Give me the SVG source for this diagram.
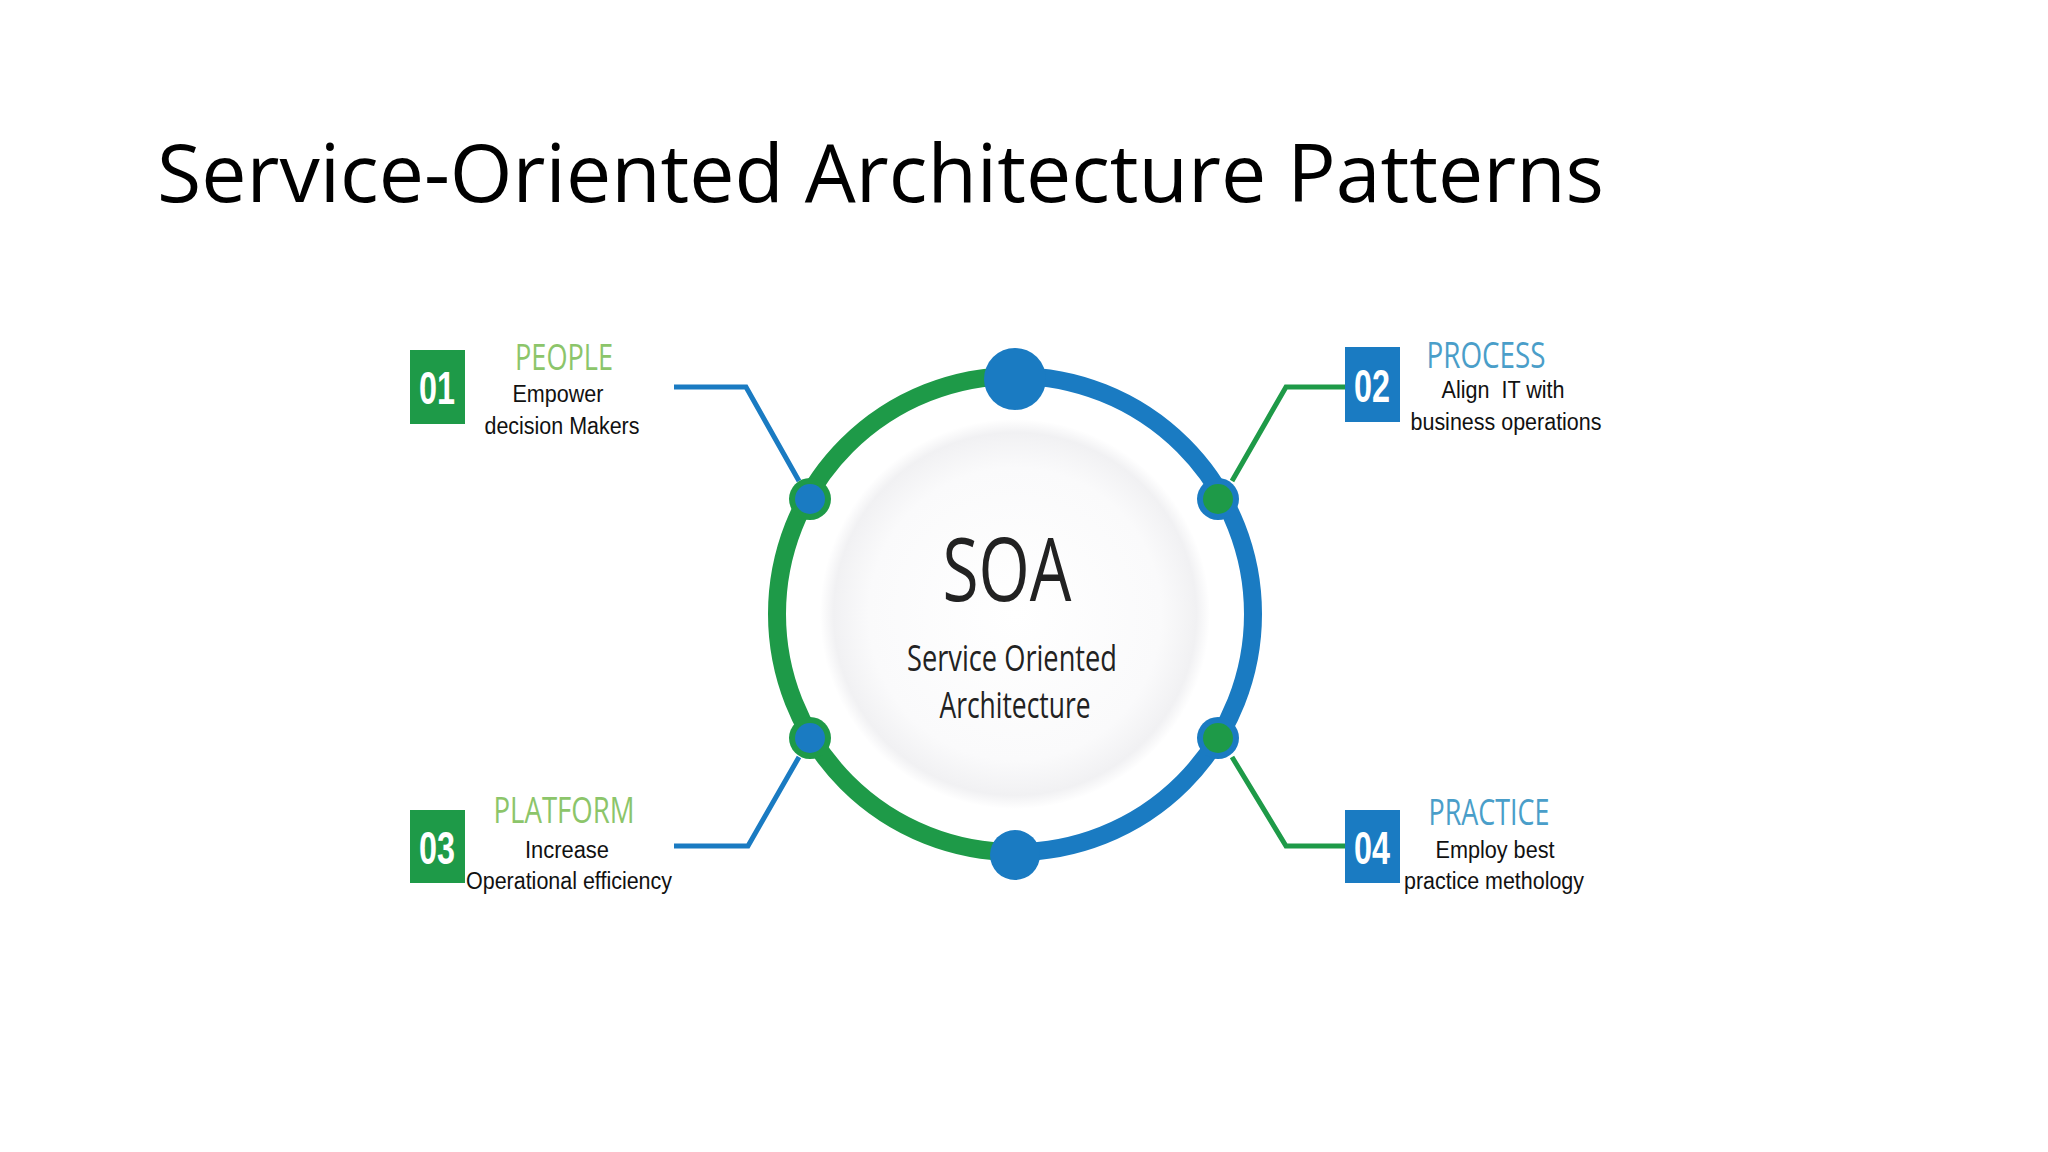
<svg xmlns="http://www.w3.org/2000/svg" width="2048" height="1152" viewBox="0 0 2048 1152">
<defs>
<radialGradient id="g" cx="0.5" cy="0.5" r="0.5">
<stop offset="0" stop-color="#ffffff"/><stop offset="0.75" stop-color="#fafafb"/><stop offset="0.93" stop-color="#f1f1f3"/><stop offset="1" stop-color="#ffffff"/>
</radialGradient>
<style>
.t{font-family:"Open Sans","Liberation Sans",Arial,sans-serif}
.num{font-family:"Liberation Sans",Arial,sans-serif;font-weight:bold;fill:#fff;font-size:46px;text-anchor:middle}
.hd{font-family:"Open Sans","Liberation Sans",sans-serif;font-size:36px;text-anchor:middle}
.sm{font-family:"Liberation Sans",Arial,sans-serif;font-size:23px;fill:#111;text-anchor:middle}
.ctr{font-family:"Open Sans","Liberation Sans",sans-serif;fill:#222;text-anchor:middle}
.cb{fill:none;stroke:#1a7bc2;stroke-width:5}
.cg{fill:none;stroke:#1e9a48;stroke-width:5}
</style>
</defs>
<rect width="2048" height="1152" fill="#fff"/>
<text class="t" x="157" y="202" font-size="80" textLength="1447" lengthAdjust="spacingAndGlyphs" fill="#000">Service-Oriented Architecture Patterns</text>
<g id="connectors">
<polyline class="cb" points="674,387 746,387 799,481"/>
<polyline class="cg" points="1345,387 1286,387 1232,481"/>
<polyline class="cb" points="674,846 748,846 799,757"/>
<polyline class="cg" points="1345,846 1286,846 1232,757"/>
</g>
<g id="soa">
<circle cx="1015" cy="614" r="195" fill="url(#g)"/>
<path d="M1015,376 A238,238 0 0 0 1015,852" fill="none" stroke="#1e9a48" stroke-width="18"/>
<path d="M1015,376 A238,238 0 0 1 1015,852" fill="none" stroke="#1a7bc2" stroke-width="18"/>
<circle cx="1015" cy="379" r="31" fill="#1a7bc2"/>
<circle cx="1015" cy="855" r="25" fill="#1a7bc2"/>
<circle cx="810" cy="499" r="21" fill="#1e9a48"/><circle cx="810" cy="499" r="15" fill="#1a7bc2"/>
<circle cx="810" cy="738" r="21" fill="#1e9a48"/><circle cx="810" cy="738" r="15" fill="#1a7bc2"/>
<circle cx="1218" cy="499" r="21" fill="#1a7bc2"/><circle cx="1218" cy="499" r="15" fill="#1e9a48"/>
<circle cx="1218" cy="738" r="21" fill="#1a7bc2"/><circle cx="1218" cy="738" r="15" fill="#1e9a48"/>
<text class="ctr" x="1007" y="601" font-size="88" textLength="129" lengthAdjust="spacingAndGlyphs">SOA</text>
<text class="ctr" x="1012" y="671" font-size="36" textLength="210" lengthAdjust="spacingAndGlyphs" fill="#333">Service Oriented</text>
<text class="ctr" x="1015" y="718" font-size="36" textLength="151" lengthAdjust="spacingAndGlyphs" fill="#333">Architecture</text>
</g>
<g id="n01">
<rect x="410" y="350" width="55" height="74" fill="#1e9a48"/>
<text class="num" x="437" y="404" textLength="36" lengthAdjust="spacingAndGlyphs">01</text>
<text class="hd" x="564" y="370" fill="#8cc56a" textLength="98" lengthAdjust="spacingAndGlyphs">PEOPLE</text>
<text class="sm" x="558" y="402" textLength="91" lengthAdjust="spacingAndGlyphs">Empower</text>
<text class="sm" x="562" y="434" textLength="155" lengthAdjust="spacingAndGlyphs">decision Makers</text>
</g>
<g id="n02">
<rect x="1345" y="347" width="55" height="75" fill="#1a7bc2"/>
<text class="num" x="1372" y="402" textLength="36" lengthAdjust="spacingAndGlyphs">02</text>
<text class="hd" x="1486" y="368" fill="#4a9ec9" textLength="119" lengthAdjust="spacingAndGlyphs">PROCESS</text>
<text class="sm" x="1503" y="398" textLength="123" lengthAdjust="spacingAndGlyphs" xml:space="preserve">Align  IT with</text>
<text class="sm" x="1506" y="430" textLength="191" lengthAdjust="spacingAndGlyphs">business operations</text>
</g>
<g id="n03">
<rect x="410" y="810" width="55" height="73" fill="#1e9a48"/>
<text class="num" x="437" y="864" textLength="36" lengthAdjust="spacingAndGlyphs">03</text>
<text class="hd" x="564" y="823" fill="#8cc56a" textLength="141" lengthAdjust="spacingAndGlyphs">PLATFORM</text>
<text class="sm" x="567" y="858" textLength="84" lengthAdjust="spacingAndGlyphs">Increase</text>
<text class="sm" x="569" y="889" textLength="206" lengthAdjust="spacingAndGlyphs">Operational efficiency</text>
</g>
<g id="n04">
<rect x="1345" y="810" width="55" height="73" fill="#1a7bc2"/>
<text class="num" x="1372" y="864" textLength="36" lengthAdjust="spacingAndGlyphs">04</text>
<text class="hd" x="1489" y="825" fill="#4a9ec9" textLength="121" lengthAdjust="spacingAndGlyphs">PRACTICE</text>
<text class="sm" x="1495" y="858" textLength="119" lengthAdjust="spacingAndGlyphs">Employ best</text>
<text class="sm" x="1494" y="889" textLength="180" lengthAdjust="spacingAndGlyphs">practice methology</text>
</g>
</svg>
